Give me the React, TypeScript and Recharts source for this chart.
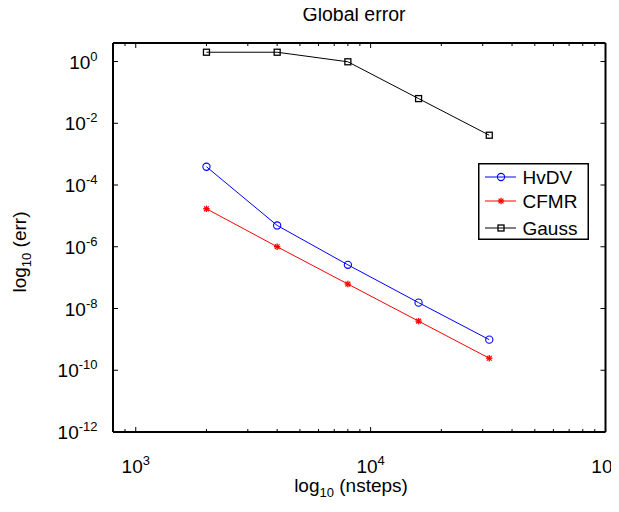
import React from 'react';
import { LineChart, Line, XAxis, YAxis, Legend } from 'recharts';

// ---- data ----
const nsteps = [2000, 4000, 8000, 16000, 32000];
const hvdvErr = [3.9e-4, 4.9e-6, 2.6e-7, 1.55e-8, 9.8e-10];
const cfmrErr = [1.7e-5, 1.0e-6, 6.2e-8, 3.9e-9, 2.45e-10];
const gaussErr = [2.0, 2.0, 0.98, 0.063, 0.0041];

const seriesNames = ['HvDV', 'CFMR', 'Gauss'];
const seriesKeys = ['hvdv', 'cfmr', 'gauss'];
const seriesColors = ['#0000ff', '#ff0000', '#000000'];
const seriesMarkers = ['circle', 'star', 'square'];

const xMajorTicks = [1e3, 1e4, 1e5];
const xMinorTicks = [900, 2000, 3000, 4000, 5000, 6000, 7000, 8000, 9000, 20000, 30000, 40000, 50000, 60000, 70000, 80000, 90000];
const yMajorTicks = [1e0, 1e-2, 1e-4, 1e-6, 1e-8, 1e-10, 1e-12];
const xDomain = [800, 1e5];
const yDomain = [1e-12, 3.98];

const titleText = 'Global error';
const xLabelMain = 'log';
const xLabelSub = '10';
const xLabelRest = ' (nsteps)';
const yLabelRest = ' (err)';

const data = nsteps.map((n, i) => ({ n, hvdv: hvdvErr[i], cfmr: cfmrErr[i], gauss: gaussErr[i] }));
const xTicks = [...xMajorTicks, ...xMinorTicks].sort((a, b) => a - b);

const FONT = '"Liberation Sans", Arial, Helvetica, sans-serif';
const FS = 19;
const SUP = 13;
const AXIS_W = 2;

const expOf = (v: number) => Math.round(Math.log10(v));
const isMajorX = (v: number) => xMajorTicks.some((t) => Math.abs(t - v) < 1e-9 * t);

const Pow = ({ x, y, v, anchor }: any) => (
  <text x={x} y={y} textAnchor={anchor} fontFamily={FONT} fontSize={FS} fill="#000">
    10
    <tspan dy={-8} fontSize={SUP}>{String(expOf(v))}</tspan>
  </text>
);

const BottomTick = (props: any) => {
  const { x, y, payload } = props;
  const major = isMajorX(payload.value);
  return (
    <g>
      <line x1={x} x2={x} y1={y} y2={y - (major ? 5 : 3)} stroke="#000" strokeWidth={1} />
      {major && <Pow x={x} y={y + 41} v={payload.value} anchor="middle" />}
    </g>
  );
};

const TopTick = (props: any) => {
  const { x, y, payload } = props;
  const major = isMajorX(payload.value);
  return <line x1={x} x2={x} y1={y} y2={y + (major ? 5 : 3)} stroke="#000" strokeWidth={1} />;
};

const LeftTick = (props: any) => {
  const { x, y, payload } = props;
  return (
    <g>
      <line x1={x} x2={x + 5} y1={y} y2={y} stroke="#000" strokeWidth={1} />
      <Pow x={x - 15.5} y={y + 7} v={payload.value} anchor="end" />
    </g>
  );
};

const RightTick = (props: any) => {
  const { x, y } = props;
  return <line x1={x} x2={x - 5} y1={y} y2={y} stroke="#000" strokeWidth={1} />;
};

const Marker = ({ kind, cx, cy, color }: any) => {
  if (kind === 'circle') {
    return <circle cx={cx} cy={cy} r={3.6} fill="none" stroke={color} strokeWidth={1.1} />;
  }
  if (kind === 'square') {
    return <rect x={cx - 3} y={cy - 3} width={6} height={6} fill="none" stroke={color} strokeWidth={1.3} />;
  }
  const s = 3.2;
  const d = 2.4;
  return (
    <g stroke={color} strokeWidth={1.3}>
      <line x1={cx - s} x2={cx + s} y1={cy} y2={cy} />
      <line x1={cx} x2={cx} y1={cy - s} y2={cy + s} />
      <line x1={cx - d} x2={cx + d} y1={cy - d} y2={cy + d} />
      <line x1={cx - d} x2={cx + d} y1={cy + d} y2={cy - d} />
    </g>
  );
};

const makeDot = (kind: string, color: string) => (props: any) => {
  const { cx, cy, index } = props;
  return (
    <g key={`${kind}-${index}`}>
      <Marker kind={kind} cx={cx} cy={cy} color={color} />
    </g>
  );
};

const rowY = [14, 38, 65];

const LegendBox = () => (
  <svg width={111} height={77} style={{ display: 'block' }}>
    <rect x={0.75} y={0.75} width={109.5} height={75.5} fill="#fff" stroke="#000" strokeWidth={1.5} />
    {seriesNames.map((name, i) => (
      <g key={name}>
        <line x1={7} x2={38} y1={rowY[i]} y2={rowY[i]} stroke={seriesColors[i]} strokeWidth={1} />
        <Marker kind={seriesMarkers[i]} cx={23} cy={rowY[i]} color={seriesColors[i]} />
        <text x={44.5} y={rowY[i] + 7} fontFamily={FONT} fontSize={FS} fill="#000">{name}</text>
      </g>
    ))}
  </svg>
);

export default function App() {
  return (
    <div style={{ width: 619, height: 512, position: 'relative', marginLeft: -8, marginTop: -8 }}>
      <LineChart width={619} height={512} data={data} margin={{ top: 38, right: 8.5, bottom: 40, left: 53 }}>
        <XAxis
          xAxisId="b"
          dataKey="n"
          type="number"
          scale="log"
          domain={xDomain}
          allowDataOverflow
          ticks={xTicks}
          interval={0}
          height={40}
          tickSize={0}
          tickMargin={0}
          tickLine={false}
          axisLine={{ stroke: '#000', strokeWidth: AXIS_W }}
          tick={<BottomTick />}
        />
        <XAxis
          xAxisId="t"
          orientation="top"
          dataKey="n"
          type="number"
          scale="log"
          domain={xDomain}
          allowDataOverflow
          ticks={xTicks}
          interval={0}
          height={5}
          tickSize={0}
          tickMargin={0}
          tickLine={false}
          axisLine={{ stroke: '#000', strokeWidth: AXIS_W }}
          tick={<TopTick />}
        />
        <YAxis
          yAxisId="l"
          type="number"
          scale="log"
          domain={yDomain}
          allowDataOverflow
          ticks={yMajorTicks}
          interval={0}
          width={60}
          tickSize={0}
          tickMargin={0}
          tickLine={false}
          axisLine={{ stroke: '#000', strokeWidth: AXIS_W }}
          tick={<LeftTick />}
        />
        <YAxis
          yAxisId="r"
          orientation="right"
          type="number"
          scale="log"
          domain={yDomain}
          allowDataOverflow
          ticks={yMajorTicks}
          interval={0}
          width={5}
          tickSize={0}
          tickMargin={0}
          tickLine={false}
          axisLine={{ stroke: '#000', strokeWidth: AXIS_W }}
          tick={<RightTick />}
        />
        {seriesKeys.map((k, i) => (
          <Line
            key={k}
            xAxisId="b"
            yAxisId="l"
            type="linear"
            dataKey={k}
            name={seriesNames[i]}
            stroke={seriesColors[i]}
            strokeWidth={1}
            dot={makeDot(seriesMarkers[i], seriesColors[i])}
            activeDot={false}
            isAnimationActive={false}
          />
        ))}
        <Legend
          layout="vertical"
          align="center"
          verticalAlign="middle"
          wrapperStyle={{ left: 477.5, top: 162.5, width: 111, height: 77 }}
          content={() => <LegendBox />}
        />
        <text x={354} y={20.5} textAnchor="middle" fontFamily={FONT} fontSize={19.5} fill="#000">{titleText}</text>
        <text x={351} y={492} textAnchor="middle" fontFamily={FONT} fontSize={FS} fill="#000">
          {xLabelMain}
          <tspan dy={5} fontSize={SUP}>{xLabelSub}</tspan>
          <tspan dy={-5}>{xLabelRest}</tspan>
        </text>
        <text x={26} y={252} textAnchor="middle" transform="rotate(-90 26 252)" fontFamily={FONT} fontSize={FS} fill="#000">
          {xLabelMain}
          <tspan dy={5} fontSize={SUP}>{xLabelSub}</tspan>
          <tspan dy={-5}>{yLabelRest}</tspan>
        </text>
      </LineChart>
    </div>
  );
}
